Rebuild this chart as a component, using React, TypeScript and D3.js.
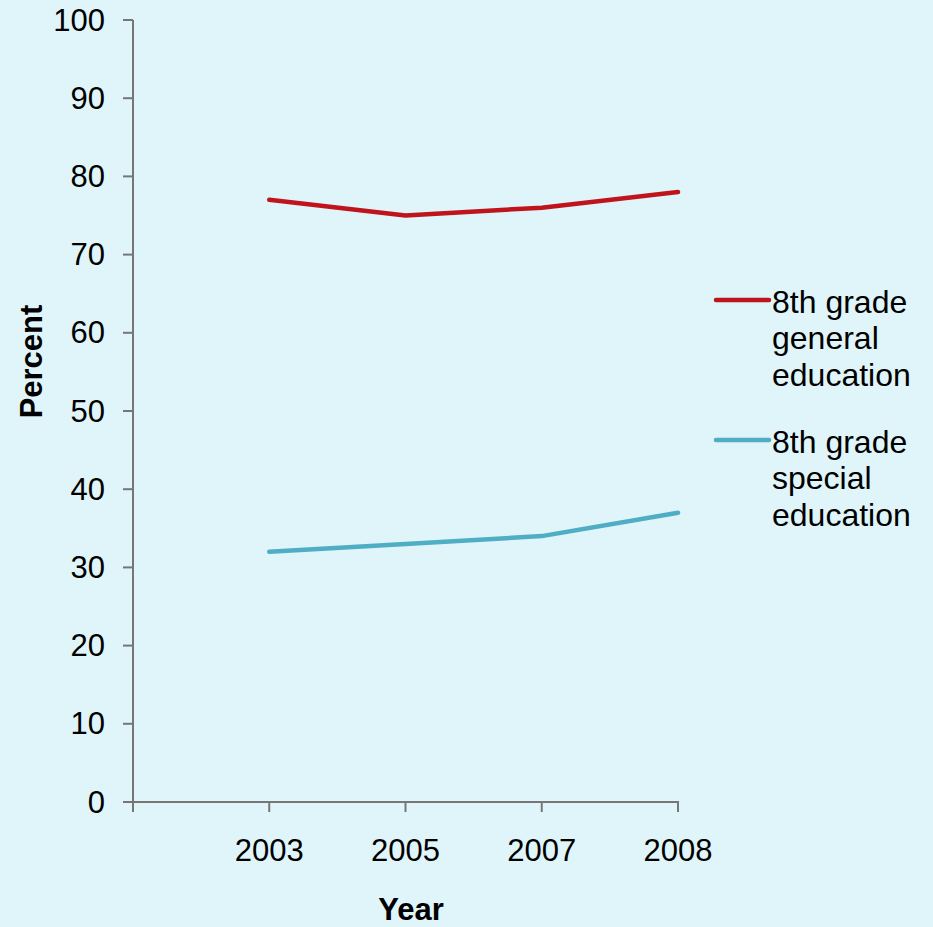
import React from 'react';
import * as d3 from 'd3';

const years = ['', '2003', '2005', '2007', '2008'];
const generalEd = [77, 75, 76, 78];
const specialEd = [32, 33, 34, 37];
const yTicks = [0, 10, 20, 30, 40, 50, 60, 70, 80, 90, 100];

const series = [
  { name: ['8th grade', 'general', 'education'], values: generalEd, color: '#c0141c' },
  { name: ['8th grade', 'special', 'education'], values: specialEd, color: '#4fadc4' },
];

const App: React.FC = () => {
  const width = 933;
  const height = 927;
  const x0 = 133;
  const x1 = 678;
  const y0 = 802;
  const y1 = 20;

  const x = d3.scaleLinear().domain([0, years.length - 1]).range([x0, x1]);
  const y = d3.scaleLinear().domain([0, 100]).range([y0, y1]);

  const line = d3
    .line<number>()
    .x((_, i) => x(i + 1))
    .y((d) => y(d));

  const font = '"Liberation Sans", Arial, sans-serif';
  const axisColor = '#767676';
  const fs = 31;

  return (
    <svg
      width={width}
      height={height}
      style={{ position: 'absolute', left: 0, top: 0, background: '#dff5f9' }}
      fontFamily={font}
    >
      <rect width={width} height={height} fill="#dff5f9" />

      {/* y axis */}
      <line x1={x0} x2={x0} y1={y1} y2={y0 + 10} stroke={axisColor} strokeWidth={2} />
      {yTicks.map((t) => (
        <g key={t}>
          <line x1={x0 - 10} x2={x0} y1={y(t)} y2={y(t)} stroke={axisColor} strokeWidth={2} />
          <text x={105} y={y(t) + 10.5} textAnchor="end" fontSize={fs} fill="#000">
            {t}
          </text>
        </g>
      ))}

      {/* x axis */}
      <line x1={x0 - 10} x2={x1 + 1} y1={y0} y2={y0} stroke={axisColor} strokeWidth={2} />
      {years.map((yr, i) => (
        <g key={i}>
          <line x1={x(i)} x2={x(i)} y1={y0} y2={y0 + 10} stroke={axisColor} strokeWidth={2} />
          {yr && (
            <text x={x(i)} y={861} textAnchor="middle" fontSize={fs} fill="#000">
              {yr}
            </text>
          )}
        </g>
      ))}

      {/* lines */}
      {series.map((s) => (
        <path
          key={s.color}
          d={line(s.values) || ''}
          fill="none"
          stroke={s.color}
          strokeWidth={4.5}
          strokeLinejoin="round"
          strokeLinecap="round"
        />
      ))}

      {/* axis titles */}
      <text x={411} y={920} textAnchor="middle" fontSize={fs} fontWeight="bold" fill="#000">
        Year
      </text>
      <text
        transform="translate(42, 361.5) rotate(-90)"
        textAnchor="middle"
        fontSize={fs}
        fontWeight="bold"
        fill="#000"
      >
        Percent
      </text>

      {/* legend */}
      {series.map((s, i) => {
        const top = 300 + i * 140;
        return (
          <g key={i}>
            <line x1={716} x2={769} y1={top} y2={top} stroke={s.color} strokeWidth={4.5} strokeLinecap="round" />
            {s.name.map((n, j) => (
              <text key={j} x={772} y={top + 12.5 + j * 36.5} fontSize={32} fill="#000">
                {n}
              </text>
            ))}
          </g>
        );
      })}
    </svg>
  );
};

export default App;
